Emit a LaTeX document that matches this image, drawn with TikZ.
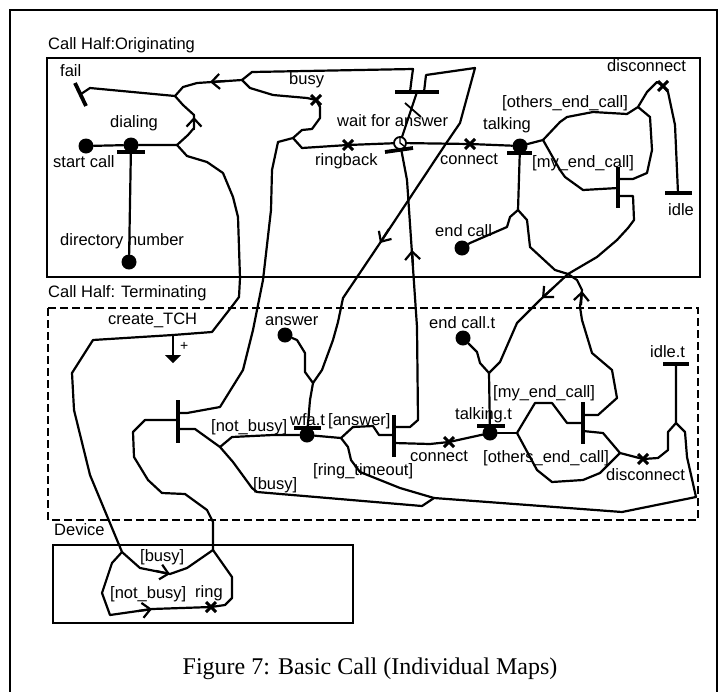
\documentclass[tikz,border=0pt]{standalone}
\usepackage{fontspec}
\setmainfont{Liberation Serif}
\setsansfont{Liberation Sans}
\usetikzlibrary{arrows.meta}

\begin{document}
\begin{tikzpicture}[x=1pt,y=-1pt,
  ucm/.style={line width=2.2pt, line join=round, line cap=round},
  stopbar/.style={line width=3.8pt},
  forkbar/.style={line width=4.5pt},
  dot/.style={circle, fill, inner sep=0pt, minimum size=15pt},
  lbl/.style={anchor=base west, inner sep=0pt, font=\sffamily\fontsize{16.5}{19}\selectfont},
  flow/.style={line width=2.2pt, -{Straight Barb[length=8pt,width=15pt]}},
  xcross/.pic={\draw[line width=3pt] (-5,-5) -- (5,5) (-5,5) -- (5,-5);},
  clock/.pic={\draw[line width=1.8pt, fill=white] (0,0) circle (6);
              \draw[line width=1.4pt] (0,-6) -- (0,0) -- (4,3);}
]
  \useasboundingbox (0,0) rectangle (728,691);
  \fill[white] (0,0) rectangle (728,691);
  % Outer frame
  \draw[line width=1.2pt] (10,700) -- (10,10) -- (717,10) -- (717,700);

  % Components
  \node[lbl] (t-orig) at (48,49) {Call Half:Originating};
  \draw[line width=2.2pt] (47,58) rectangle (700,277);
  \node[lbl] (t-term) at (48,297) {Call Half: Terminating};
  \draw[line width=2.2pt, dash pattern=on 8pt off 4pt] (48,308) rectangle (698,520);
  \node[lbl] (t-dev) at (54,535) {Device};
  \draw[line width=2.2pt] (53,545) rectangle (353,623);

  % Points of the originating half
  \node[dot] (startcall) at (86,146) {};
  \node[dot] (dialing) at (131,145) {};
  \node[dot] (dirnum) at (129,262) {};
  \node[dot] (talking) at (520,146) {};
  \node[dot] (endcall) at (462,248) {};
  \coordinate (jdial) at (177,145);
  \coordinate (jfail) at (175,96);
  \coordinate (failend) at (81,94);
  \coordinate (jtop) at (242,80);
  \coordinate (busyx) at (316,100);
  \coordinate (jring) at (293,138);
  \coordinate (ringbackx) at (348,145);
  \coordinate (timer) at (400,143);
  \coordinate (waitin1) at (410,92);
  \coordinate (waitin2) at (424,92);
  \coordinate (waitout) at (417,92);
  \coordinate (connectx) at (470,144);
  \coordinate (jtalk) at (543,140);
  \coordinate (jothers) at (638,107);
  \coordinate (discx) at (663,86);
  \coordinate (idleend) at (678,193);
  \coordinate (myendL) at (618,188);
  \coordinate (myendR1) at (618,179);
  \coordinate (myendR2) at (618,196);
  \coordinate (jend) at (518,210);
  \coordinate (cross) at (568,274);

  % Points of the terminating half
  \node[dot] (answer) at (285,335) {};
  \node[dot] (wfat) at (307,435) {};
  \node[dot] (endcallt) at (463,338) {};
  \node[dot] (talkingt) at (490,433) {};
  \coordinate (tch) at (173,335);
  \coordinate (tbarL) at (178,420);
  \coordinate (tbarR1) at (178,413);
  \coordinate (tbarR2) at (178,429);
  \coordinate (jnb) at (220,447);
  \coordinate (jans) at (313,383);
  \coordinate (jwfa) at (341,438);
  \coordinate (ansL) at (394,435);
  \coordinate (ansR1) at (394,427);
  \coordinate (ansR2) at (394,443);
  \coordinate (tconnectx) at (449,442);
  \coordinate (jtt) at (489,373);
  \coordinate (jtalkt) at (517,433);
  \coordinate (tmyL) at (583,423);
  \coordinate (tmyR1) at (583,415);
  \coordinate (tmyR2) at (583,431);
  \coordinate (jdisc) at (620,453);
  \coordinate (tdiscx) at (643,459);
  \coordinate (jidle) at (676,423);
  \coordinate (idletend) at (676,364);
  \coordinate (jmerge) at (434,498);
  \coordinate (jright) at (696,497);

  % Points of the device
  \coordinate (jdev1) at (122,552);
  \coordinate (jdev2) at (213,550);
  \coordinate (ringx) at (211,607);

  % Originating paths
  \draw[ucm] (startcall) -- (dialing) -- (jdial);
  \draw[ucm] (dirnum) -- (dialing);
  \draw[ucm] (jdial) -- (188,135) -- (194,128) -- (194,115) -- (183,105) -- (jfail);
  \draw[ucm] (jfail) -- (90,88) -- (failend);
  \draw[ucm] (jfail) -- (183,87) -- (197,83) -- (jtop);
  \draw[ucm] (jtop) -- (252,72) -- (413,69) -- (412,76) -- (waitin1);
  \draw[ucm] (jtop) -- (250,88) -- (273,95) -- (307,98) -- (busyx);
  \draw[ucm] (busyx) -- (320,107) -- (320,118) -- (312,129) -- (302,130) -- (jring);
  \draw[ucm] (jring) -- (302,148) -- (ringbackx) -- (timer);
  \draw[ucm] (waitout) -- (timer);
  \draw[ucm] (timer) -- (connectx) -- (talking);
  \draw[ucm] (talking) -- (jtalk);
  \draw[ucm] (talking) -- (jend);
  \draw[ucm] (jend) -- (510,217) -- (507,227) -- (470,243) -- (endcall);
  \draw[ucm] (jtalk) -- (560,122) -- (567,117) -- (593,112) -- (627,114) -- (jothers);
  \draw[ucm] (jtalk) -- (560,170) -- (565,177) -- (583,190) -- (myendL);
  \draw[ucm] (jothers) -- (650,117) -- (652,150) -- (647,173) -- (633,179) -- (myendR1);
  \draw[ucm] (jothers) -- (647,92) -- (657,82) -- (discx) -- (668,92) -- (675,125) -- (idleend);

  % Paths between the halves
  \draw[ucm] (jdial) -- (187,156) -- (207,162) -- (223,173) -- (233,197) -- (238,217)
    -- (240,278) -- (239,297) -- (233,305) -- (212,332) -- (tch) -- (93,340) -- (72,373)
    -- (74,410) -- (90,475) -- (jdev1);
  \draw[ucm] (jring) -- (278,142) -- (272,170) -- (271,210) -- (263,280) -- (253,330)
    -- (243,370) -- (220,407) -- (187,413) -- (tbarR1);
  \draw[ucm] (waitin2) -- (426,75) -- (475,68) -- (460,123) -- (445,145) -- (380,243)
    -- (343,298) -- (338,322) -- (333,340) -- (322,370) -- (jans);
  \draw[ucm] (timer) -- (407,180) -- (417,327) -- (418,420) -- (410,427) -- (ansR1);
  \draw[ucm] (myendR2) -- (633,196) -- (634,220) -- (628,228) -- (617,240) -- (597,257)
    -- (cross) -- (540,300) -- (517,323) -- (500,362) -- (jtt);
  \draw[ucm] (jend) -- (527,220) -- (530,247) -- (555,270) -- (cross) -- (577,280)
    -- (582,290) -- (580,307) -- (582,320) -- (592,353) -- (612,370) -- (617,398)
    -- (598,415) -- (tmyR1);

  % Terminating paths
  \draw[ucm] (tch) -- (173,355);
  \fill (165,355) -- (181,355) -- (173,363) -- cycle;
  \draw[ucm] (tbarR2) -- (195,429) -- (jnb);
  \draw[ucm] (jnb) -- (232,437) -- (273,435) -- (wfat) -- (jwfa);
  \draw[ucm] (answer) -- (297,340) -- (305,353) -- (305,372) -- (jans) -- (310,400) -- (wfat);
  \draw[ucm] (jwfa) -- (353,427) -- (373,426) -- (379,435) -- (ansL);
  \draw[ucm] (ansR2) -- (430,444) -- (tconnectx) -- (talkingt);
  \draw[ucm] (jwfa) -- (348,447) -- (351,460) -- (360,472) -- (380,480) -- (400,488) -- (jmerge);
  \draw[ucm] (jnb) -- (233,462) -- (252,488) -- (257,492) -- (422,506) -- (jmerge)
    -- (622,512) -- (jright);
  \draw[ucm] (jright) -- (687,457) -- (685,432) -- (jidle) -- (idletend);
  \draw[ucm] (talkingt) -- (jtalkt);
  \draw[ucm] (talkingt) -- (jtt);
  \draw[ucm] (jtt) -- (480,363) -- (477,352) -- (endcallt);
  \draw[ucm] (jtalkt) -- (535,403) -- (552,403) -- (567,423) -- (tmyL);
  \draw[ucm] (jtalkt) -- (537,470) -- (552,482) -- (583,480) -- (600,473) -- (jdisc);
  \draw[ucm] (tmyR2) -- (603,433) -- (jdisc) -- (tdiscx) -- (658,458) -- (668,450)
    -- (668,432) -- (jidle);
  \draw[ucm] (jdev2) -- (213,522) -- (207,510) -- (185,494) -- (162,493) -- (148,480)
    -- (134,457) -- (133,432) -- (145,420) -- (tbarL);

  % Device paths
  \draw[ucm] (jdev1) -- (140,568) -- (170,574) -- (187,568) -- (jdev2);
  \draw[ucm] (jdev1) -- (112,563) -- (102,593) -- (110,615) -- (152,609) -- (ringx)
    -- (225,605) -- (232,598) -- (232,577) -- (jdev2);

  % Bars
  \draw[stopbar] (75,83) -- (86,106);
  \draw[stopbar] (117,152) -- (145,152);
  \draw[forkbar] (395,92) -- (439,92);
  \draw[stopbar] (385,152) -- (413,148);
  \draw[stopbar] (507,153) -- (532,153);
  \draw[forkbar] (618,167) -- (618,208);
  \draw[stopbar] (665,193) -- (692,193);
  \draw[forkbar] (178,400) -- (178,443);
  \draw[stopbar] (294,428) -- (321,428);
  \draw[forkbar] (394,415) -- (394,457);
  \draw[stopbar] (477,426) -- (505,426);
  \draw[forkbar] (583,402) -- (583,444);
  \draw[stopbar] (663,364) -- (689,364);

  % Timer and timeout mark
  \draw[line width=1.8pt] (405,103) -- (421,117);
  \pic at (timer) {clock};

  % Crossings
  \pic at (busyx) {xcross};
  \pic at (ringbackx) {xcross};
  \pic at (connectx) {xcross};
  \pic at (discx) {xcross};
  \pic at (tconnectx) {xcross};
  \pic at (tdiscx) {xcross};
  \pic at (ringx) {xcross};

  % Direction arrows
  \draw[flow] (226,81) -- (210,82);
  \draw[flow] (194,130) -- (194,117);
  \draw[flow] (389,229) -- (380,243);
  \draw[flow] (413,265) -- (412,250);
  \draw[flow] (553,288) -- (542,298);
  \draw[flow] (581,305) -- (582,291);
  \draw[flow] (156,571) -- (170,574);
  \draw[flow] (138,611) -- (152,609);

  % Labels, originating
  \node[lbl] (l-fail) at (60,76) {fail};
  \node[lbl] (l-dialing) at (110,127) {dialing};
  \node[lbl] (l-start) at (53,167) {start call};
  \node[lbl] (l-dirnum) at (60,245) {directory number};
  \node[lbl] (l-busy) at (289,84) {busy};
  \node[lbl] (l-wait) at (337,126) {wait for answer};
  \node[lbl] (l-ringback) at (315,165) {ringback};
  \node[lbl] (l-connect) at (440,164) {connect};
  \node[lbl] (l-talking) at (483,129) {talking};
  \node[lbl] (l-endcall) at (435,236) {end call};
  \node[lbl] (l-others) at (502,107) {[others\_end\_call]};
  \node[lbl] (l-myend) at (532,167) {[my\_end\_call]};
  \node[lbl] (l-disc) at (607,71) {disconnect};
  \node[lbl] (l-idle) at (668,215) {idle};

  % Labels, terminating
  \node[lbl] (l-tch) at (108,324) {create\_TCH};
  \node[anchor=base west, inner sep=0pt, font=\sffamily\fontsize{14}{16}\selectfont]
    (l-plus) at (180,350) {+};
  \node[lbl] (l-answer) at (265,325) {answer};
  \node[lbl] (l-notbusy) at (211,431) {[not\_busy]};
  \node[lbl] (l-wfat) at (290,425) {wfa.t};
  \node[lbl] (l-ans) at (328,425) {[answer]};
  \node[lbl] (l-tbusy) at (253,489) {[busy]};
  \node[lbl] (l-timeout) at (313,475) {[ring\_timeout]};
  \node[lbl] (l-tconnect) at (410,461) {connect};
  \node[lbl] (l-talkingt) at (455,419) {talking.t};
  \node[lbl] (l-endcallt) at (429,328) {end call.t};
  \node[lbl] (l-tmyend) at (493,397) {[my\_end\_call]};
  \node[lbl] (l-tothers) at (483,462) {[others\_end\_call]};
  \node[lbl] (l-tdisc) at (606,480) {disconnect};
  \node[lbl] (l-idlet) at (650,357) {idle.t};

  % Labels, device
  \node[lbl] (l-dbusy) at (140,561) {[busy]};
  \node[lbl] (l-dnotbusy) at (110,598) {[not\_busy]};
  \node[lbl] (l-ring) at (195,597) {ring};

  % Caption
  \node[anchor=base, inner sep=0pt, font=\fontsize{24}{28}\selectfont] (caption)
    at (370,674) {Figure 7: Basic Call (Individual Maps)};
\end{tikzpicture}
\end{document}
